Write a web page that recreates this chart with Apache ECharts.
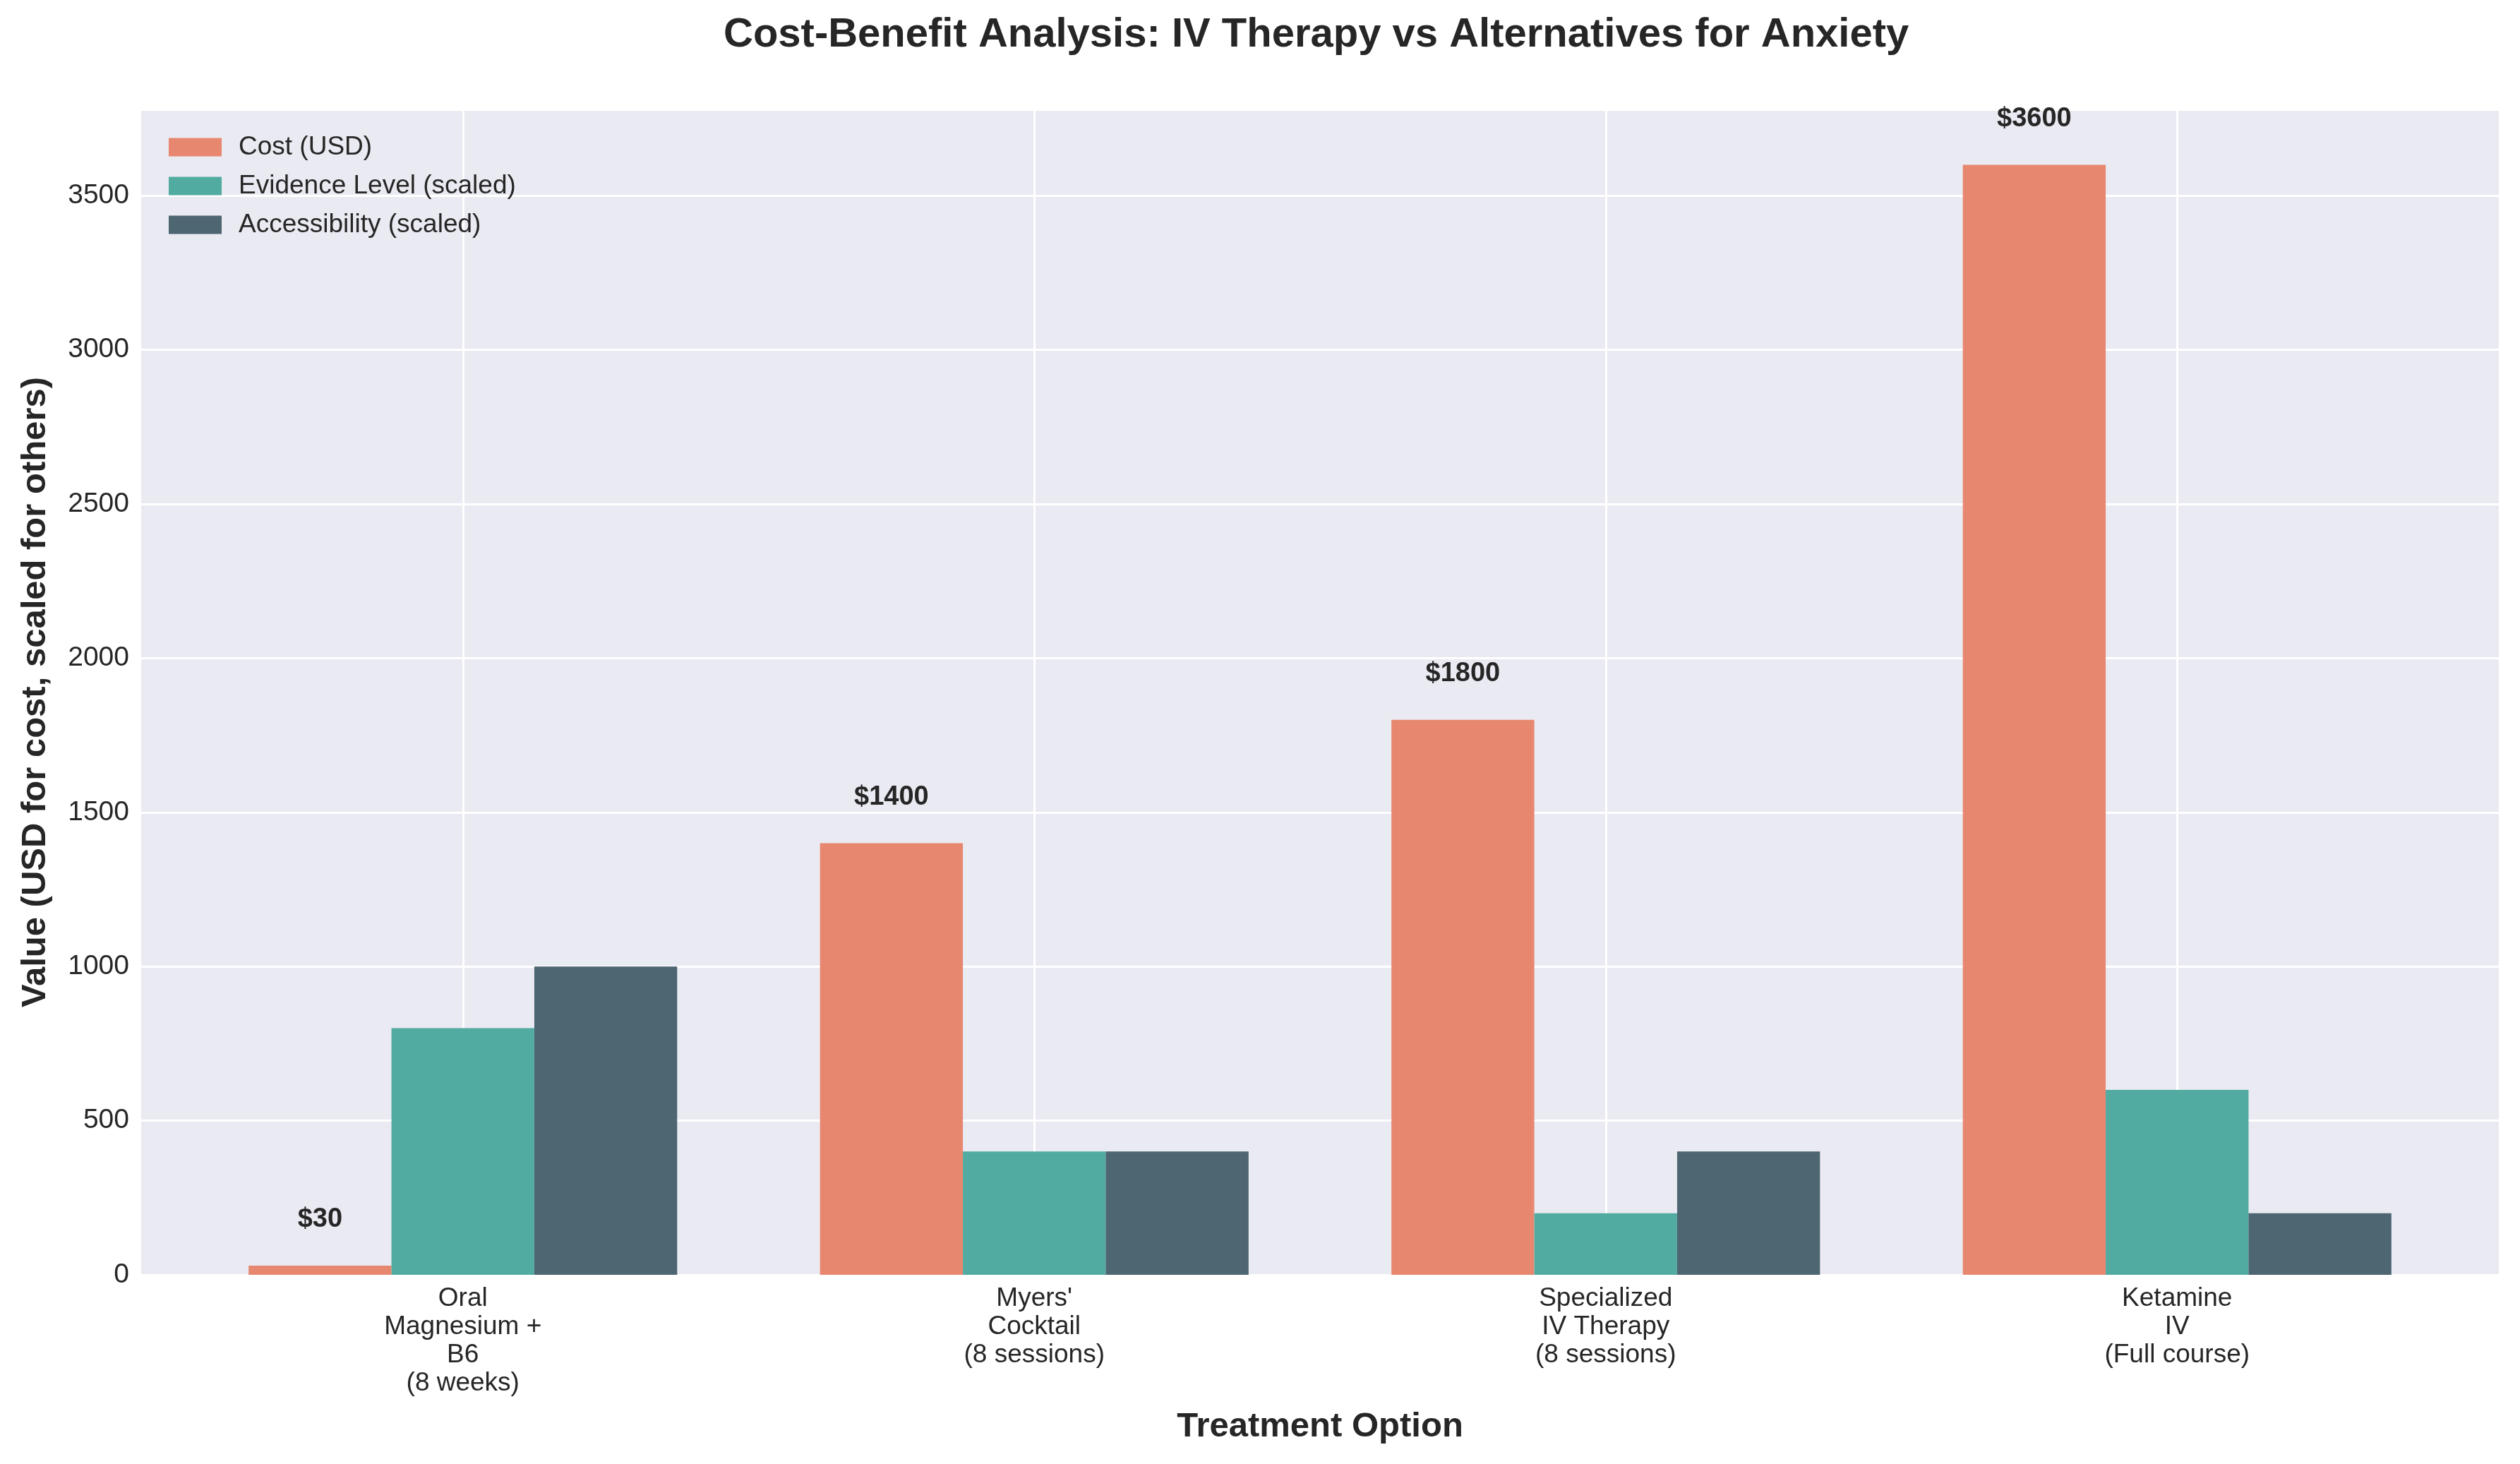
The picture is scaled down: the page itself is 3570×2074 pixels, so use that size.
<!DOCTYPE html>
<html>
<head>
<meta charset="utf-8">
<script src="https://cdn.jsdelivr.net/npm/echarts@6/dist/echarts.min.js"></script>
<style>
html,body{margin:0;padding:0;background:#fff;}
#chart{width:3570px;height:2074px;}
</style>
</head>
<body>
<div id="chart"></div>
<script>
const categories = ["Oral\nMagnesium +\nB6\n(8 weeks)", "Myers'\nCocktail\n(8 sessions)", "Specialized\nIV Therapy\n(8 sessions)", "Ketamine\nIV\n(Full course)"];
const costValues = [30, 1400, 1800, 3600];
const evidenceValues = [800, 400, 200, 600];
const accessibilityValues = [1000, 400, 400, 200];
const seriesNames = ["Cost (USD)", "Evidence Level (scaled)", "Accessibility (scaled)"];

const FONT = "Liberation Sans";
const TXT = "#262626";
const chart = echarts.init(document.getElementById('chart'), null, {renderer: 'canvas'});
const yMax = 3780;

chart.setOption({
  backgroundColor: '#ffffff',
  animation: false,
  textStyle: {fontFamily: FONT},
  title: {
    text: 'Cost-Benefit Analysis: IV Therapy vs Alternatives for Anxiety',
    left: 1025, top: 21, padding: 0,
    textStyle: {fontFamily: FONT, fontSize: 58, fontWeight: 'bold', color: TXT}
  },
  legend: {
    orient: 'vertical', left: 234, top: 185,
    itemWidth: 75, itemHeight: 26, itemGap: 18,
    icon: 'rect',
    data: seriesNames,
    textStyle: {fontFamily: FONT, fontSize: 37, color: TXT, padding: [0, 0, 0, 19]}
  },
  grid: [
    {left: 200, right: 30, top: 155, bottom: 268, show: true, backgroundColor: '#EAEAF2', borderWidth: 0, containLabel: false},
    {left: 251, right: 81, top: 155, bottom: 268, containLabel: false}
  ],
  xAxis: [
    {gridIndex: 0, type: 'value', min: 0, max: 1, show: false},
    {
      gridIndex: 1, type: 'category', data: categories,
      name: 'Treatment Option', nameLocation: 'middle', nameGap: 191,
      nameTextStyle: {fontFamily: FONT, fontSize: 49, fontWeight: 'bold', color: TXT},
      axisLine: {show: false}, axisTick: {show: false, alignWithLabel: true},
      splitLine: {show: true, alignWithLabel: true, lineStyle: {color: '#ffffff', width: 3}},
      axisLabel: {fontFamily: FONT, fontSize: 37, color: TXT, lineHeight: 40, margin: 14, interval: 0}
    }
  ],
  yAxis: [
    {
      gridIndex: 0, type: 'value', min: 0, max: yMax, interval: 500,
      name: 'Value (USD for cost, scaled for others)', nameLocation: 'middle', nameGap: 125,
      nameTextStyle: {fontFamily: FONT, fontSize: 49, fontWeight: 'bold', color: TXT},
      axisLine: {show: false}, axisTick: {show: false},
      splitLine: {show: true, lineStyle: {color: '#ffffff', width: 3}},
      axisLabel: {fontFamily: FONT, fontSize: 39, color: TXT, margin: 17, showMaxLabel: false,
        formatter: v => String(v)}
    },
    {gridIndex: 1, type: 'value', min: 0, max: yMax, interval: 500, show: false, splitLine: {show: false}}
  ],
  series: [
    {
      name: seriesNames[0], type: 'bar', xAxisIndex: 1, yAxisIndex: 1,
      data: costValues, barWidth: '25%', barGap: '0%',
      itemStyle: {color: '#E8876F'},
      label: {show: true, position: 'top', distance: 46, formatter: p => '$' + p.value,
        fontFamily: FONT, fontSize: 38, fontWeight: 'bold', color: TXT}
    },
    {
      name: seriesNames[1], type: 'bar', xAxisIndex: 1, yAxisIndex: 1,
      data: evidenceValues, barWidth: '25%', barGap: '0%',
      itemStyle: {color: '#51ABA1'}
    },
    {
      name: seriesNames[2], type: 'bar', xAxisIndex: 1, yAxisIndex: 1,
      data: accessibilityValues, barWidth: '25%', barGap: '0%',
      itemStyle: {color: '#4E6672'}
    }
  ]
});
</script>
</body>
</html>
